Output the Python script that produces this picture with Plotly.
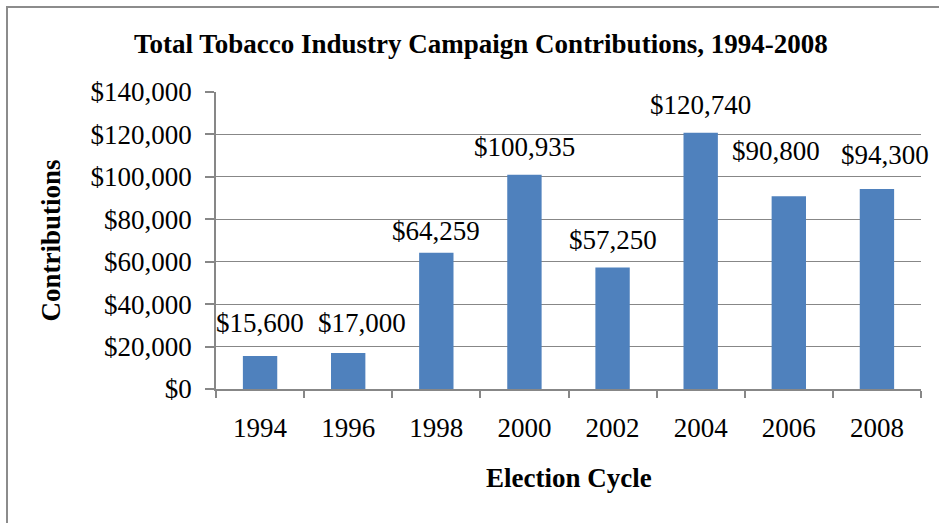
import plotly.graph_objects as go

# ---- data ----
cycles = ["1994", "1996", "1998", "2000", "2002", "2004", "2006", "2008"]
contributions = [15600, 17000, 64259, 100935, 57250, 120740, 90800, 94300]
value_labels = ["$15,600", "$17,000", "$64,259", "$100,935", "$57,250", "$120,740", "$90,800", "$94,300"]

# label nudges in pixels (dx, dy above bar top) as placed in the original
label_dx = [0, 14, 0, 0, 0, 0, -13, 8]
label_dy = [32, 29, 21, 27, 27, 27, 44, 33]

W, H = 939, 523
L, T = 216, 92
pw, ph = 705, 297
R = W - L - pw
B = H - T - ph

def px_x(p):
    return (p - L) / pw

def px_y(p):
    return (T + ph - p) / ph

FONT = "Liberation Serif, Times New Roman, serif"
FS = 27
GRID = "#878787"

fig = go.Figure(
    go.Bar(
        x=cycles,
        y=contributions,
        marker=dict(color="#4F81BD", line=dict(width=0)),
        hoverinfo="skip",
    )
)

annotations = []
for i, (v, t, dx, dy) in enumerate(zip(contributions, value_labels, label_dx, label_dy)):
    annotations.append(dict(
        x=i, y=v, xref="x", yref="y", text=t, showarrow=False,
        xanchor="center", yanchor="middle", xshift=dx, yshift=dy + 1,
        font=dict(family=FONT, size=FS, color="black"),
    ))

# title
annotations.append(dict(
    x=px_x(480.5), y=px_y(44), xref="paper", yref="paper",
    text="<b>Total Tobacco Industry Campaign Contributions, 1994-2008</b>",
    showarrow=False, xanchor="center", yanchor="middle",
    font=dict(family=FONT, size=FS, color="black"),
))
# x axis title
annotations.append(dict(
    x=px_x(568.5), y=px_y(478), xref="paper", yref="paper",
    text="<b>Election Cycle</b>", showarrow=False,
    xanchor="center", yanchor="middle",
    font=dict(family=FONT, size=FS, color="black"),
))
# y axis title
annotations.append(dict(
    x=px_x(50), y=px_y(240.5), xref="paper", yref="paper",
    text="<b>Contributions</b>", showarrow=False, textangle=-90,
    xanchor="center", yanchor="middle",
    font=dict(family=FONT, size=FS, color="black"),
))

fig.update_layout(
    width=W, height=H,
    margin=dict(l=L, r=R, t=T, b=B, pad=0, autoexpand=False),
    paper_bgcolor="white", plot_bgcolor="white",
    bargap=0.61,
    showlegend=False,
    annotations=annotations,
    shapes=[dict(
        type="rect", xref="paper", yref="paper",
        x0=px_x(7), x1=px_x(980), y0=px_y(600), y1=px_y(7),
        line=dict(color="#8C8C8C", width=2), fillcolor="rgba(0,0,0,0)",
        layer="above",
    )],
    font=dict(family=FONT, size=FS, color="black"),
)

fig.update_xaxes(
    type="category", range=[-0.5, len(cycles) - 0.5], automargin=False,
    showline=True, linecolor=GRID, linewidth=1.5,
    ticks="outside", tickson="boundaries", ticklen=7, tickcolor=GRID, tickwidth=1.5,
    showgrid=False, tickangle=0,
    tickfont=dict(family=FONT, size=FS, color="black"),
    ticklabelstandoff=14,
)
fig.update_yaxes(
    range=[0, 140000], dtick=20000, tick0=0, automargin=False,
    tickprefix="$", tickformat=",d",
    showline=True, linecolor=GRID, linewidth=1.5,
    ticks="outside", ticklen=9, tickcolor=GRID, tickwidth=1.5,
    showgrid=True, gridcolor=GRID, gridwidth=1.2,
    zeroline=False,
    tickfont=dict(family=FONT, size=FS, color="black"),
    ticklabelstandoff=8,
)

fig.write_html(
    "out.html",
    config={"displayModeBar": False},
    post_script="document.body.style.margin='0px';document.body.style.padding='0px';",
)
